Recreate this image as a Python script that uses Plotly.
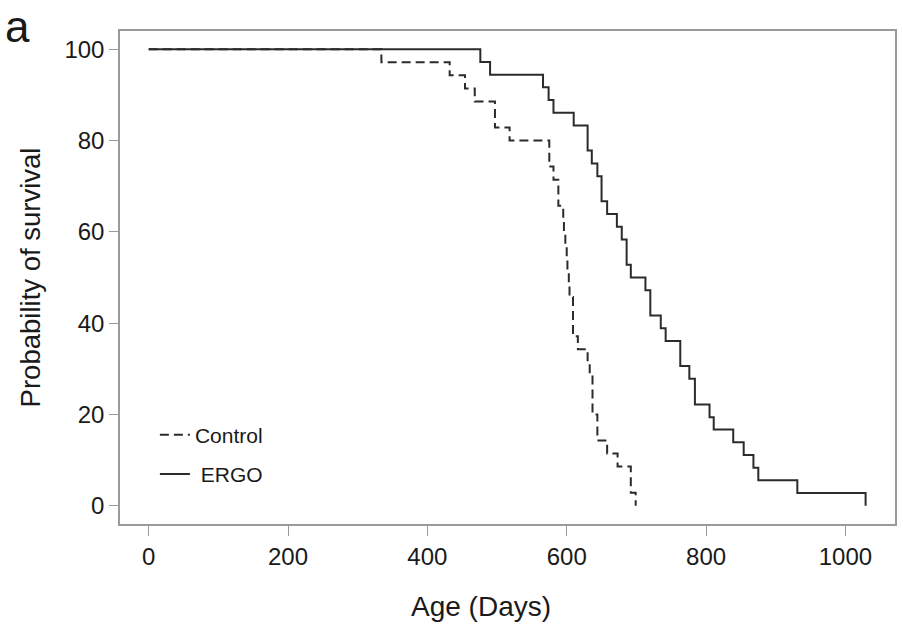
import plotly.graph_objects as go

# Kaplan-Meier step data (day of change, survival % after change)
control_days = [0, 334, 432, 454, 468, 497, 518, 575, 581, 588, 595, 596, 598, 600,
                601, 603, 604, 609, 616, 630, 633, 637, 644, 658, 673, 692, 699]
control_surv = [100, 97.14, 94.29, 91.43, 88.57, 82.86, 80.0, 74.29, 71.43, 65.71,
                62.86, 60.0, 57.14, 54.29, 51.43, 48.57, 45.71, 37.14, 34.29, 31.43,
                28.57, 20.0, 14.29, 11.43, 8.57, 2.86, 0]

ergo_days = [0, 476, 490, 566, 574, 581, 610, 630, 636, 644, 650, 658, 672, 679, 686,
             692, 713, 720, 735, 742, 763, 776, 784, 805, 811, 839, 854, 868, 875, 931, 1029]
ergo_surv = [100, 97.2, 94.4, 91.7, 88.9, 86.1, 83.3, 77.8, 75.0, 72.2, 66.7, 63.9,
             61.1, 58.3, 52.8, 50.0, 47.2, 41.7, 38.9, 36.1, 30.6, 27.8, 22.2, 19.4,
             16.7, 13.9, 11.1, 8.3, 5.6, 2.8, 0]

x_ticks = [0, 200, 400, 600, 800, 1000]
y_ticks = [0, 20, 40, 60, 80, 100]

FONT = "Liberation Sans, Arial, Helvetica, sans-serif"
TXT = "#1a1a1a"
GRAY = "#9a9a9a"

fig = go.Figure()
fig.add_trace(go.Scatter(
    x=control_days, y=control_surv, mode="lines", name="Control",
    line=dict(shape="hv", color="#2b2b2b", width=2, dash="9px,5px"),
    legendgroup="c"))
fig.add_trace(go.Scatter(
    x=ergo_days, y=ergo_surv, mode="lines", name=" ERGO",
    line=dict(shape="hv", color="#2b2b2b", width=2),
    legendgroup="e"))

fig.update_layout(
    width=903, height=631,
    margin=dict(l=120, r=6, t=31, b=107),
    paper_bgcolor="white", plot_bgcolor="white",
    font=dict(family=FONT, color=TXT, size=24),
    showlegend=True,
    legend=dict(x=0.045, y=0.222, xanchor="left", yanchor="top",
                bgcolor="rgba(0,0,0,0)", font=dict(size=21, color=TXT),
                traceorder="grouped", tracegroupgap=9, itemwidth=30),
    xaxis=dict(range=[-41.2, 1071.2], tickvals=x_ticks, ticks="outside", ticklen=10,
               tickcolor=GRAY, tickwidth=1, showline=True, linecolor=GRAY, linewidth=1.5,
               mirror=True, showgrid=False, zeroline=False,
               tickfont=dict(size=24, color=TXT)),
    yaxis=dict(range=[-4, 104], tickvals=y_ticks, ticks="outside", ticklen=9,
               tickcolor=GRAY, tickwidth=1, showline=True, linecolor=GRAY, linewidth=1.5,
               mirror=True, showgrid=False, zeroline=False,
               tickfont=dict(size=24, color=TXT)),
    annotations=[
        dict(text="Age (Days)", xref="paper", yref="paper", x=0.466, y=-0.168,
             xanchor="center", yanchor="middle", showarrow=False,
             font=dict(size=28, color=TXT)),
        dict(text="Probability of survival", xref="paper", yref="paper",
             x=-0.115, y=0.5, xanchor="center", yanchor="middle", textangle=-90,
             showarrow=False, font=dict(size=27.5, color=TXT)),
        dict(text="a", xref="paper", yref="paper", x=-0.151, y=1.0625,
             xanchor="left", yanchor="top", showarrow=False,
             font=dict(size=44, color=TXT)),
    ],
)

fig.write_html("out.html")
